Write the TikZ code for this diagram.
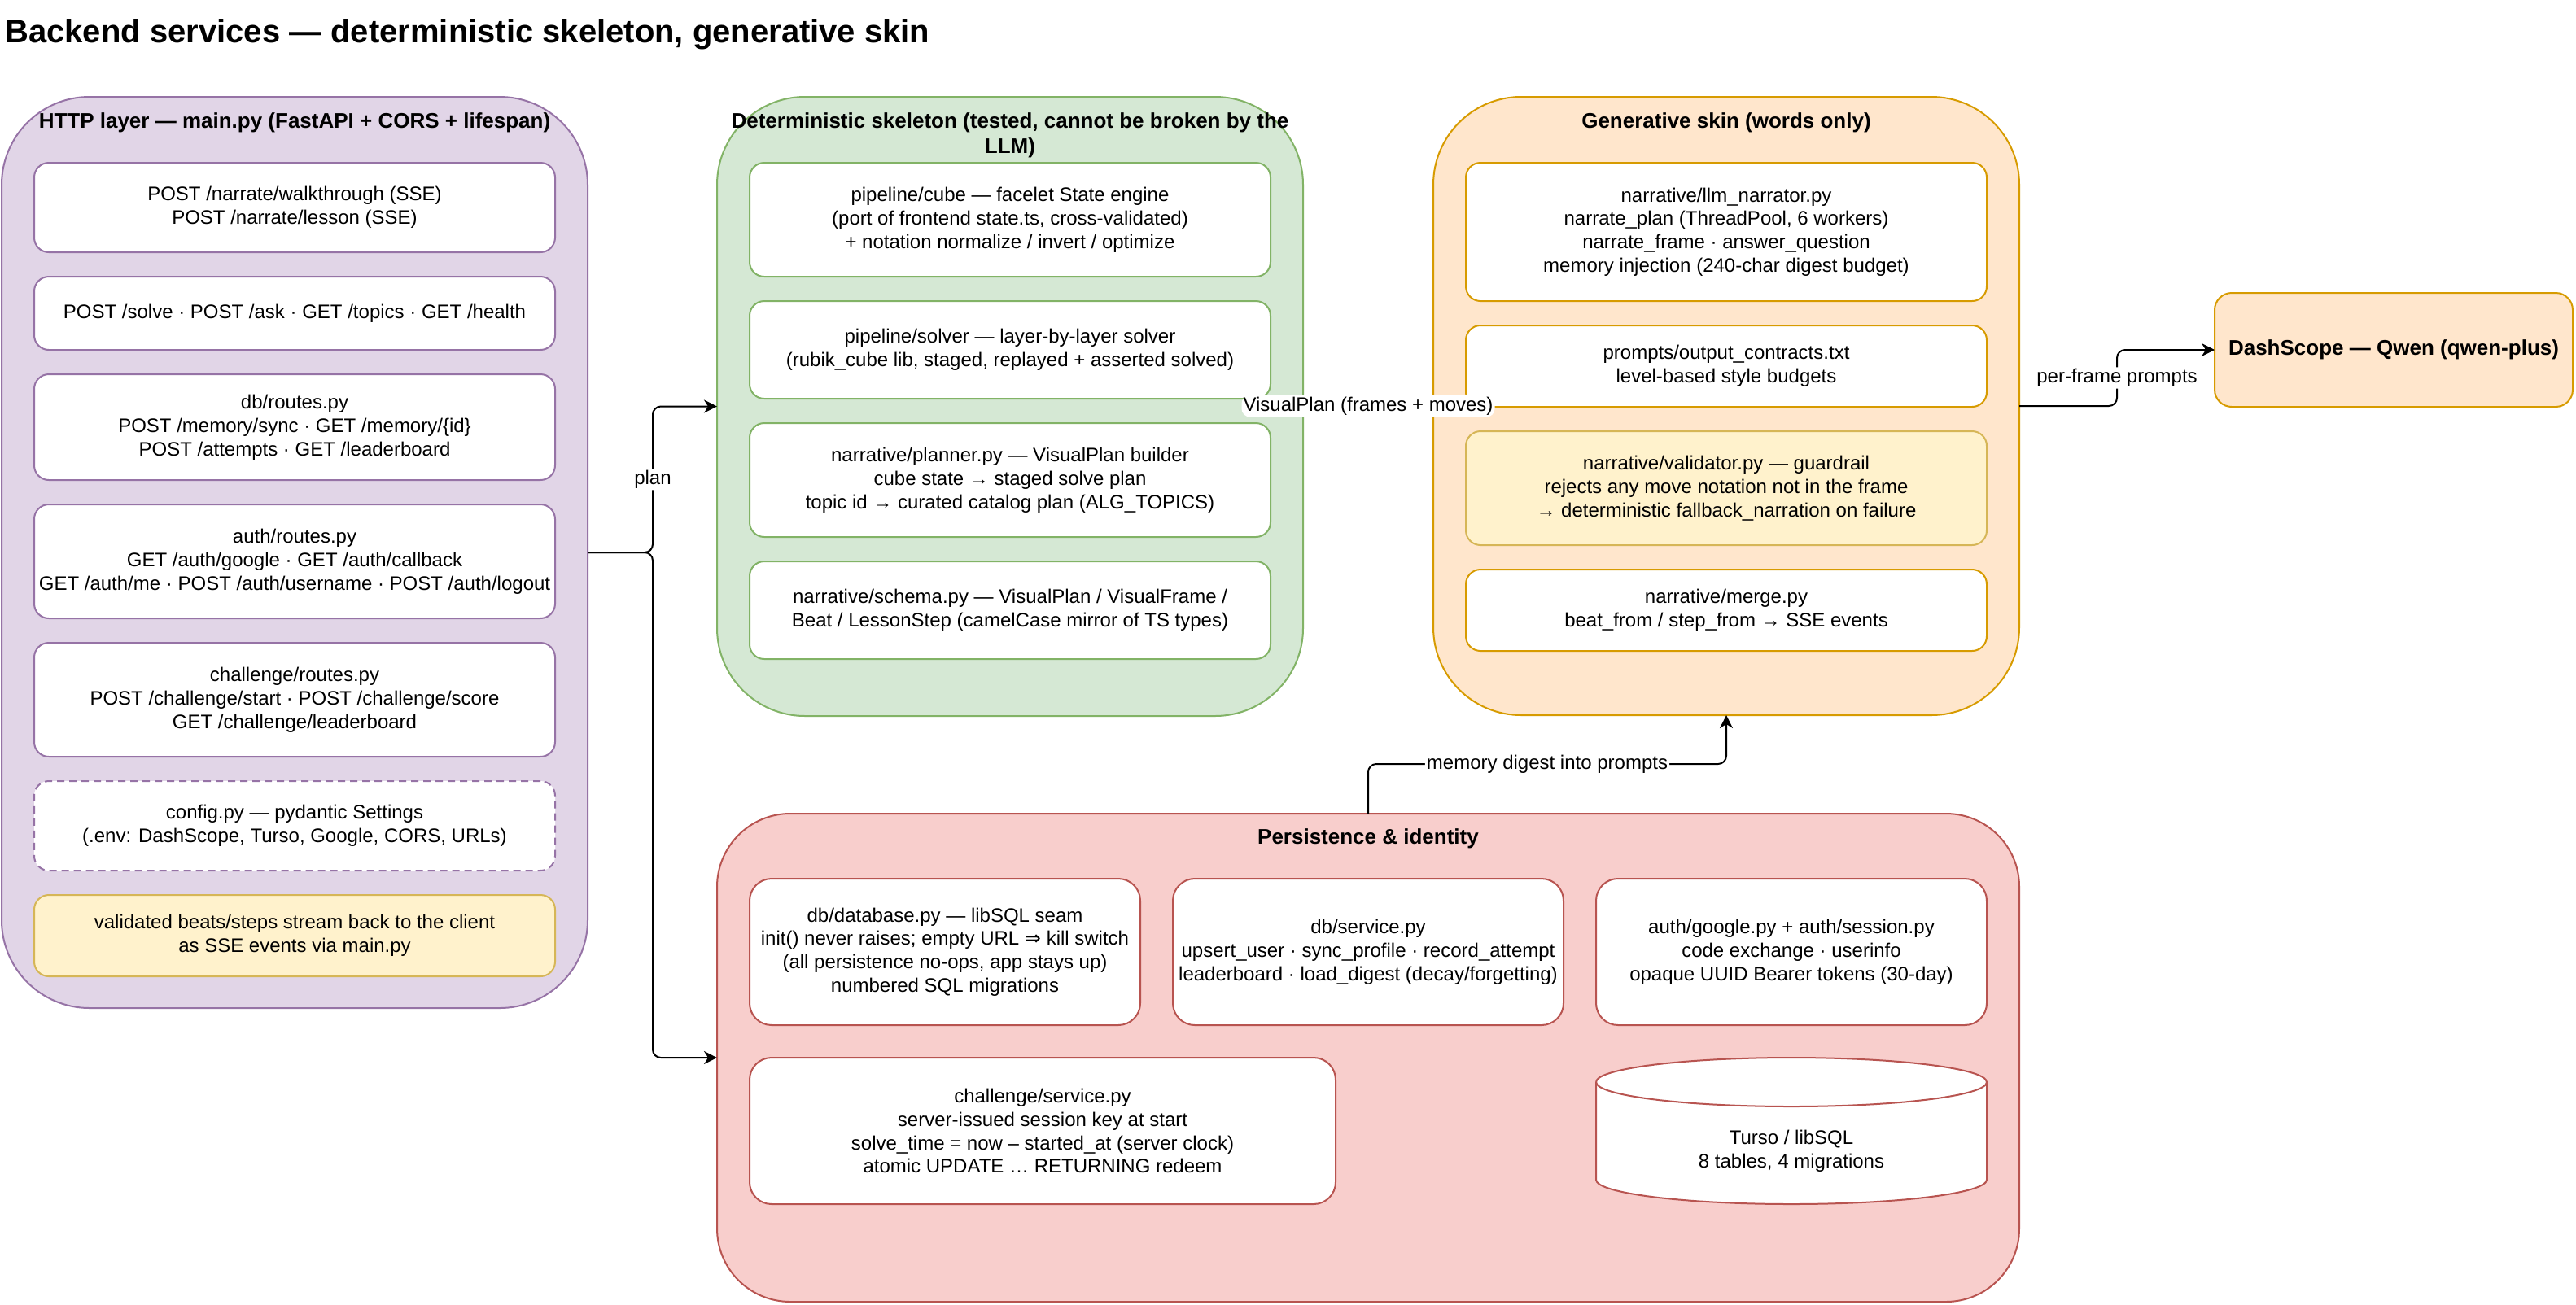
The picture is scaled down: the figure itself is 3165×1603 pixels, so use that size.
\documentclass[tikz,border=0pt]{standalone}
\usepackage{fontspec}
\setmainfont{Liberation Sans}
\newfontfamily\symfont{DejaVu Sans}
\usetikzlibrary{positioning, arrows.meta}
\definecolor{bepurple}{HTML}{9673A6}
\definecolor{bepurplebg}{HTML}{E1D5E7}
\definecolor{begreen}{HTML}{82B366}
\definecolor{begreenbg}{HTML}{D5E8D4}
\definecolor{beorange}{HTML}{D79B00}
\definecolor{beorangebg}{HTML}{FFE6CC}
\definecolor{bered}{HTML}{B85450}
\definecolor{beredbg}{HTML}{F8CECC}
\definecolor{beyellow}{HTML}{D6B656}
\definecolor{beyellowbg}{HTML}{FFF2CC}

\begin{document}
\begin{tikzpicture}[x=0.5pt, y=-0.5pt, node distance=15pt, font=\fontsize{12}{14.4}\selectfont,
    group/.style={draw, line width=1pt, rounded corners=54pt, inner sep=0pt, outer sep=0pt},
    head/.style={font=\fontsize{13}{15.6}\selectfont\bfseries, align=center, inner sep=0pt},
    box/.style={draw, line width=1pt, fill=white, rounded corners=9pt, align=center, inner sep=2pt, outer sep=0pt, minimum width=320pt},
    pbox/.style={box, draw=bepurple},
    gbox/.style={box, draw=begreen},
    obox/.style={box, draw=beorange},
    rbox/.style={box, draw=bered, rounded corners=13.5pt, minimum width=240pt, minimum height=90pt},
    ybox/.style={box, fill=beyellowbg, draw=beyellow},
    conn/.style={-{Stealth[length=8pt, width=8pt, inset=2.5pt]}, line width=1pt, rounded corners=5pt},
    lbl/.style={fill=white, inner sep=1pt}]
  \path[use as bounding box, fill=white] (0,0) rectangle (3165,1603);

  \node[font=\fontsize{20}{24}\selectfont\bfseries, anchor=base west, inner sep=0pt] (title) at (6,52) {Backend services — deterministic skeleton, generative skin};

  % HTTP layer
  \node[group, fill=bepurplebg, draw=bepurple, minimum width=360pt, minimum height=560pt] (http) at (362,679) {};
  \node[head, anchor=base] (httphead) at (362,157) {HTTP layer — main.py (FastAPI + CORS + lifespan)};
  \node[pbox, minimum height=55pt, anchor=north] (narrate) at (362,200) {POST /narrate/walkthrough (SSE)\\POST /narrate/lesson (SSE)};
  \node[pbox, minimum height=45pt, below=of narrate] (solve) {POST /solve · POST /ask · GET /topics · GET /health};
  \node[pbox, minimum height=65pt, below=of solve] (dbroutes) {db/routes.py\\POST /memory/sync · GET /memory/\{id\}\\POST /attempts · GET /leaderboard};
  \node[pbox, minimum height=70pt, below=of dbroutes] (authroutes) {auth/routes.py\\GET /auth/google · GET /auth/callback\\GET /auth/me · POST /auth/username · POST /auth/logout};
  \node[pbox, minimum height=70pt, below=of authroutes] (chroutes) {challenge/routes.py\\POST /challenge/start · POST /challenge/score\\GET /challenge/leaderboard};
  \node[pbox, minimum height=55pt, dash pattern=on 4.5pt off 3pt, below=of chroutes] (config) {config.py — pydantic Settings\\(.env: DashScope, Turso, Google, CORS, URLs)};
  \node[ybox, minimum height=50pt, below=of config] (stream) {validated beats/steps stream back to the client\\as SSE events via main.py};

  % deterministic skeleton
  \node[group, fill=begreenbg, draw=begreen, minimum width=360pt, minimum height=380.5pt] (skel) at (1241,499.5) {};
  \node[head, anchor=north] (skelhead) at (1241,138) {Deterministic skeleton (tested, cannot be broken by the\\LLM)};
  \node[gbox, minimum height=70pt, anchor=north] (cube) at (1241,200) {pipeline/cube — facelet State engine\\(port of frontend state.ts, cross-validated)\\+ notation normalize / invert / optimize};
  \node[gbox, minimum height=60pt, below=of cube] (solver) {pipeline/solver — layer-by-layer solver\\(rubik\_cube lib, staged, replayed + asserted solved)};
  \node[gbox, minimum height=70pt, below=of solver] (planner) {narrative/planner.py — VisualPlan builder\\cube state → staged solve plan\\topic id → curated catalog plan (ALG\_TOPICS)};
  \node[gbox, minimum height=60pt, below=of planner] (schema) {narrative/schema.py — VisualPlan / VisualFrame /\\Beat / LessonStep (camelCase mirror of TS types)};

  % generative skin
  \node[group, fill=beorangebg, draw=beorange, minimum width=360pt, minimum height=380pt] (skin) at (2121,499) {};
  \node[head, anchor=base] (skinhead) at (2121,157) {Generative skin (words only)};
  \node[obox, minimum height=85pt, anchor=north] (narrator) at (2121,200) {narrative/llm\_narrator.py\\narrate\_plan (ThreadPool, 6 workers)\\narrate\_frame · answer\_question\\memory injection (240-char digest budget)};
  \node[obox, minimum height=50pt, below=of narrator] (contracts) {prompts/output\_contracts.txt\\level-based style budgets};
  \node[ybox, minimum height=70pt, below=of contracts] (validator) {narrative/validator.py — guardrail\\rejects any move notation not in the frame\\→ deterministic fallback\_narration on failure};
  \node[obox, minimum height=50pt, below=of validator] (merge) {narrative/merge.py\\beat\_from / step\_from → SSE events};

  \node[group, fill=beorangebg, draw=beorange, minimum width=220pt, minimum height=70pt, rounded corners=10.5pt, font=\fontsize{13}{15.6}\selectfont\bfseries] (dash) at (2941,430) {DashScope — Qwen (qwen-plus)};

  % persistence & identity
  \node[group, fill=beredbg, draw=bered, minimum width=800pt, minimum height=300pt, rounded corners=45pt] (store) at (1681,1300) {};
  \node[head, anchor=base] (storehead) at (1681,1037) {Persistence \& identity};
  \node[rbox, anchor=north west] (dbseam) at (921,1080) {db/database.py — libSQL seam\\init() never raises; empty URL {\symfont ⇒} kill switch\\(all persistence no-ops, app stays up)\\numbered SQL migrations};
  \node[rbox, right=20pt of dbseam] (dbsvc) {db/service.py\\upsert\_user · sync\_profile · record\_attempt\\leaderboard · load\_digest (decay/forgetting)};
  \node[rbox, right=20pt of dbsvc] (authsvc) {auth/google.py + auth/session.py\\code exchange · userinfo\\opaque UUID Bearer tokens (30-day)};
  \node[rbox, minimum width=360pt, below=20pt of dbseam.south west, anchor=north west] (chsvc) {challenge/service.py\\server-issued session key at start\\solve\_time = now – started\_at (server clock)\\atomic UPDATE … RETURNING redeem};
  \filldraw[fill=white, draw=bered, line width=1pt] (1961,1330) -- (1961,1450) arc[start angle=180, end angle=360, x radius=120pt, y radius=15pt] -- (2441,1330) arc[start angle=0, end angle=180, x radius=120pt, y radius=15pt];
  \draw[bered, line width=1pt] (1961,1330) arc[start angle=180, end angle=360, x radius=120pt, y radius=15pt];
  \node[align=center] (turso) at (2201,1415) {Turso / libSQL\\8 tables, 4 migrations};

  % connectors
  \coordinate (split) at (802,679);
  \draw[conn] (http.east) -- (split) |- node[lbl, pos=0.25] {plan} (skel.west);
  \draw[conn] (http.east) -- (split) |- (store.west);
  \draw[conn] (skel.east) -- node[lbl] {VisualPlan (frames + moves)} (skin.west);
  \draw[conn] (skin.east) -- ++(60pt,0) |- node[lbl, pos=0.25] {per-frame prompts} (dash.west);
  \draw[conn] (store.north) -- ++(0,30.5pt) -| node[lbl, pos=0.25] {memory digest into prompts} (skin.south);
\end{tikzpicture}
\end{document}
